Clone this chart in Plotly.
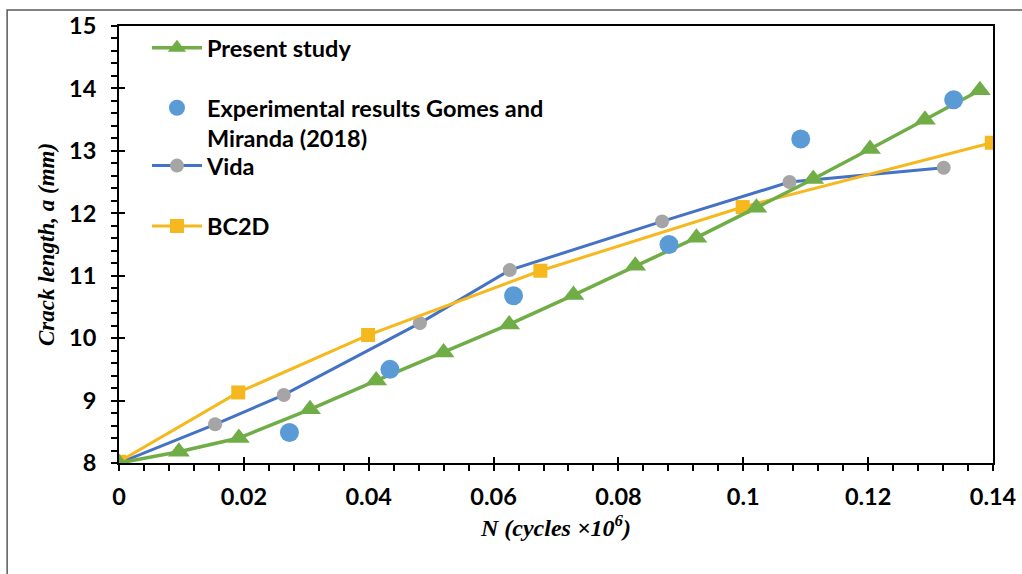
import plotly.graph_objects as go

# Data
present_x = [0.0, 0.0096, 0.0192, 0.0306, 0.0412, 0.0520, 0.0625, 0.0728, 0.0827, 0.0925, 0.1021, 0.1112, 0.1203, 0.1291, 0.1379]
present_y = [8.0, 8.18, 8.40, 8.86, 9.32, 9.77, 10.22, 10.69, 11.16, 11.61, 12.09, 12.55, 13.03, 13.50, 13.97]

exp_x = [0.0273, 0.0434, 0.0632, 0.0881, 0.1092, 0.1337]
exp_y = [8.49, 9.50, 10.68, 11.50, 13.19, 13.82]

vida_x = [0.0, 0.0154, 0.0264, 0.0482, 0.0626, 0.0870, 0.1074, 0.1321]
vida_y = [8.0, 8.62, 9.09, 10.24, 11.09, 11.87, 12.50, 12.73]

bc2d_x = [0.0, 0.0191, 0.0399, 0.0675, 0.0999, 0.1398]
bc2d_y = [8.02, 9.13, 10.05, 11.08, 12.10, 13.13]

x_ticks = [0, 0.02, 0.04, 0.06, 0.08, 0.1, 0.12, 0.14]
x_ticklabels = ["0", "0.02", "0.04", "0.06", "0.08", "0.1", "0.12", "0.14"]
y_ticks = [8, 9, 10, 11, 12, 13, 14, 15]

GREEN = "#70AD47"
BLUE_DOT = "#5B9BD5"
VIDA_LINE = "#4472C4"
GRAY = "#A5A5A5"
YELLOW = "#F5B91F"

LEG_FONT = dict(family="Lato", size=23.5, color="black", weight="bold")
TICK_FONT = dict(family="Lato", size=23.5, color="black", weight="bold")

fig = go.Figure()

fig.add_trace(go.Scatter(
    x=vida_x, y=vida_y, mode="lines+markers", name="Vida",
    line=dict(color=VIDA_LINE, width=3),
    marker=dict(color=GRAY, size=14, symbol="circle"),
    legend="legend3",
))
fig.add_trace(go.Scatter(
    x=bc2d_x, y=bc2d_y, mode="lines+markers", name="BC2D",
    line=dict(color=YELLOW, width=3),
    marker=dict(color=YELLOW, size=14, symbol="square"),
    legend="legend4",
))
fig.add_trace(go.Scatter(
    x=present_x, y=present_y, mode="lines+markers", name="Present study",
    line=dict(color=GREEN, width=3.5),
    marker=dict(color=GREEN, size=19, symbol="triangle-up"),
    legend="legend",
))
fig.add_trace(go.Scatter(
    x=exp_x, y=exp_y, mode="markers",
    name="Experimental results Gomes and<br>Miranda (2018)",
    marker=dict(color=BLUE_DOT, size=19, symbol="circle"),
    legend="legend2",
))

axis_common = dict(showgrid=False, zeroline=False, showline=True,
                   linecolor="black", linewidth=2, automargin=False)

fig.update_layout(
    width=1022, height=574,
    margin=dict(l=119, r=29, t=26, b=111),
    paper_bgcolor="white", plot_bgcolor="white",
    xaxis=dict(
        **axis_common, mirror=True,
        range=[0, 0.14], tickvals=x_ticks, ticktext=x_ticklabels,
        ticks="outside", ticklen=6, tickwidth=2, tickcolor="black",
        minor=dict(ticks="outside", dtick=0.004, ticklen=6, tickwidth=2, tickcolor="black"),
        tickfont=TICK_FONT,
        ticklabelstandoff=6,
        title=dict(text="<b><i>N (cycles ×10<sup>6</sup>)</i></b>",
                   font=dict(family="Liberation Serif", size=24, color="black"),
                   standoff=10),
    ),
    yaxis=dict(
        **axis_common, mirror=True,
        range=[8, 15], tickvals=y_ticks,
        ticks="outside", ticklen=6, tickwidth=2, tickcolor="black",
        minor=dict(ticks="outside", dtick=0.2, ticklen=6, tickwidth=2, tickcolor="black"),
        tickfont=TICK_FONT,
        ticklabelstandoff=10,
        title=dict(text="<b><i>Crack length, a (mm)</i></b>",
                   font=dict(family="Liberation Serif", size=23, color="black"),
                   standoff=8),
    ),
    xaxis2=dict(overlaying="x", anchor="y", side="bottom", range=[0, 0.14],
                tickvals=x_ticks, ticks="inside", ticklen=6, tickwidth=2,
                tickcolor="black", showticklabels=False, showgrid=False,
                zeroline=False, showline=False, automargin=False),
    yaxis2=dict(overlaying="y", anchor="x", side="left", range=[8, 15],
                tickvals=y_ticks, ticks="inside", ticklen=6, tickwidth=2,
                tickcolor="black", showticklabels=False, showgrid=False,
                zeroline=False, showline=False, automargin=False),
    legend=dict(x=0.032, y=0.95, xanchor="left", yanchor="middle",
                font=LEG_FONT, itemwidth=50, bgcolor="rgba(0,0,0,0)"),
    legend2=dict(x=0.032, y=0.777, xanchor="left", yanchor="middle",
                 font=LEG_FONT, itemwidth=50, valign="top", bgcolor="rgba(0,0,0,0)"),
    legend3=dict(x=0.032, y=0.68, xanchor="left", yanchor="middle",
                 font=LEG_FONT, itemwidth=50, bgcolor="rgba(0,0,0,0)"),
    legend4=dict(x=0.032, y=0.542, xanchor="left", yanchor="middle",
                 font=LEG_FONT, itemwidth=50, bgcolor="rgba(0,0,0,0)"),
    shapes=[dict(type="rect", xref="paper", yref="paper",
                 x0=-0.128, x1=1.1, y0=-0.4, y1=1.0366,
                 line=dict(color="#595959", width=1.5), layer="below")],
)

# invisible trace so the overlay axes (crossing major ticks) are drawn
fig.add_trace(go.Scatter(x=[None], y=[None], xaxis="x2", yaxis="y2",
                         showlegend=False, hoverinfo="skip"))

fig.write_html("out.html")
